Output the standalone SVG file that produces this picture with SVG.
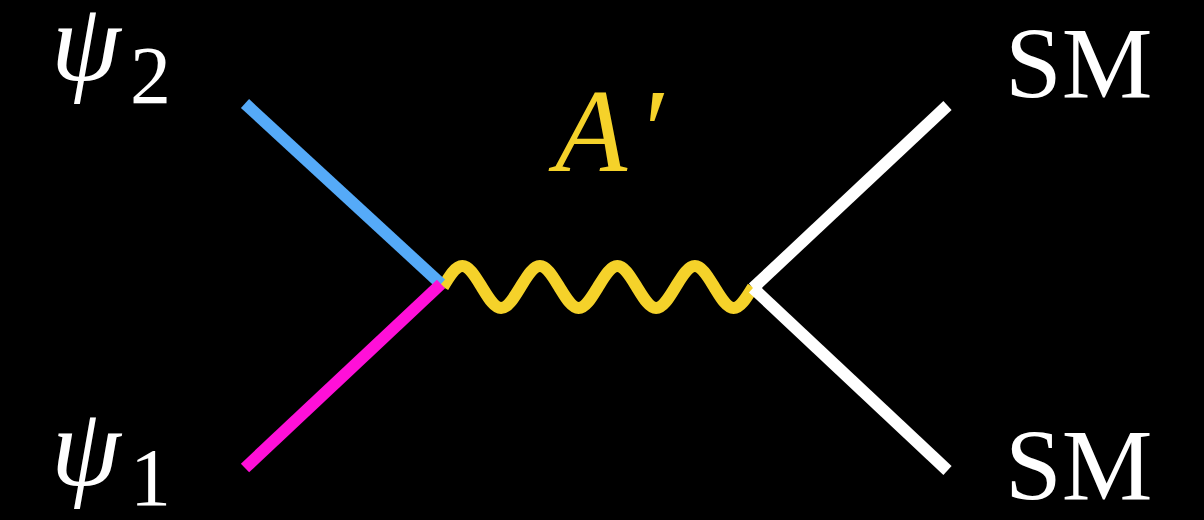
<svg xmlns="http://www.w3.org/2000/svg" width="1204" height="520" viewBox="0 0 1204 520">
<style>
.lbl{font-family:"Liberation Serif","Times New Roman",serif;fill:#fff}
.it{font-style:italic}
.ln{stroke-width:12;stroke-linecap:butt;fill:none}
</style>
<rect width="1204" height="520" fill="#000"/>
<g id="connectors">
<path id="wave" class="ln" stroke="#f5d22a" stroke-width="13" d="M443,287 c6.32,-10.76 12.36,-21 19.375,-21 s13.055,10.76 19.375,21 s12.36,21 19.375,21 s13.055,-10.76 19.375,-21 s12.36,-21 19.375,-21 s13.055,10.76 19.375,21 s12.36,21 19.375,21 s13.055,-10.76 19.375,-21 s12.36,-21 19.375,-21 s13.055,10.76 19.375,21 s12.36,21 19.375,21 s13.055,-10.76 19.375,-21 s12.36,-21 19.375,-21 s13.055,10.76 19.375,21 s12.36,21 19.375,21 s13.055,-10.76 19.375,-21"/>
<line id="psi2-line" class="ln" stroke="#55aaf8" x1="245" y1="103.5" x2="441" y2="284"/>
<line id="psi1-line" class="ln" stroke="#ff10d8" x1="245" y1="468" x2="441" y2="284"/>
<line id="sm-top-line" class="ln" stroke="#fff" x1="947.5" y1="105.5" x2="753" y2="288"/>
<line id="sm-bottom-line" class="ln" stroke="#fff" x1="753" y1="288" x2="947.5" y2="470.5"/>
</g>
<g id="psi2">
<text class="lbl it" x="51" y="80" font-size="112">ψ</text>
<text class="lbl" x="130" y="103" font-size="82">2</text>
</g>
<g id="psi1">
<text class="lbl it" x="51" y="485" font-size="112">ψ</text>
<text class="lbl" x="130" y="505" font-size="82">1</text>
</g>
<g id="aprime"><text class="lbl it" x="555" y="171" font-size="118" style="fill:#f5d22a">A<tspan dx="10">′</tspan></text></g>
<g id="sm-top"><text class="lbl" x="1005" y="98" font-size="102">SM</text></g>
<g id="sm-bottom"><text class="lbl" x="1005" y="500" font-size="102">SM</text></g>
</svg>
